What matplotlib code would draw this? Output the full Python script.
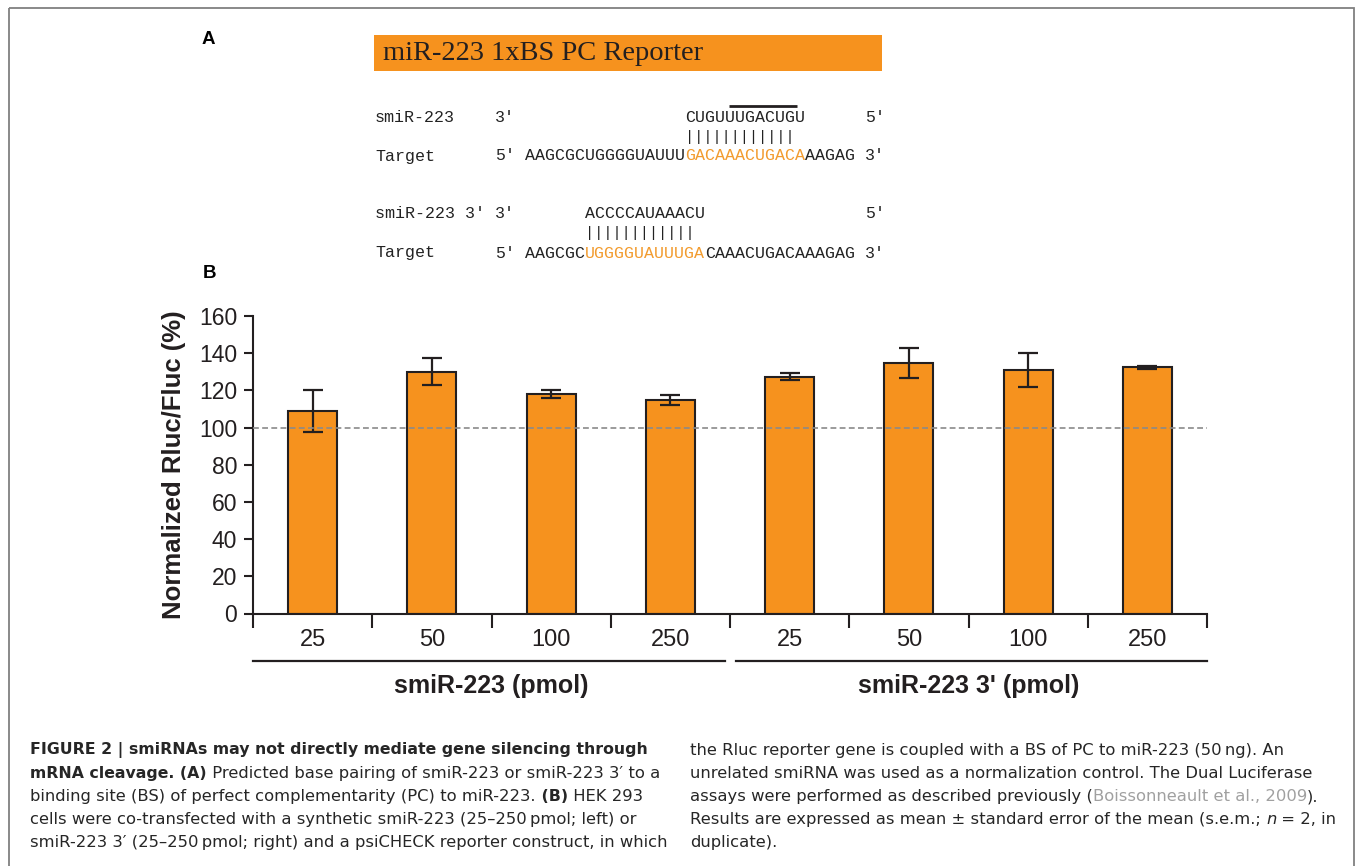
import numpy as np
import matplotlib
matplotlib.use("Agg")
import matplotlib.pyplot as plt
from matplotlib.patches import Rectangle

# ---- data (panel B) ----
groups = ["smiR-223 (pmol)", "smiR-223 3' (pmol)"]
doses = ["25", "50", "100", "250"]
means = [109, 130, 118, 115, 127.3, 134.8, 131, 132.4]
sems = [11.4, 7.3, 2.1, 2.7, 1.8, 8.1, 9.3, 0.8]

W, H = 1355, 866
ORANGE = "#F6921E"
DARK = "#231f20"

plt.rcParams["font.family"] = ["Liberation Sans", "DejaVu Sans"]
CAP_FONT = ["DejaVu Sans"]
MONO = ["Liberation Mono", "DejaVu Sans Mono"]

fig = plt.figure(figsize=(W / 100, H / 100), dpi=100)

# background axes in pixel coordinates for panel A, frame and caption
bg = fig.add_axes([0, 0, 1, 1], zorder=0)
bg.set_xlim(0, W)
bg.set_ylim(H, 0)
bg.axis("off")

bg.add_patch(Rectangle((9, 8), 1345, 880, fill=False, edgecolor="#808080",
                       lw=1.3, clip_on=False))

# ---- panel A ----
bg.text(208, 40, "A", fontsize=13.5, fontweight="bold", ha="center", va="center")
bg.add_patch(Rectangle((374, 35), 508, 36, facecolor=ORANGE, edgecolor="none"))
bg.text(383, 53, "miR-223 1xBS PC Reporter", family=["Liberation Serif", "DejaVu Serif"],
        fontsize=20.5, color=DARK, ha="left", va="center")


def seq(col, y, s, color="#222222", size=12):
    bg.text(375 + col * 10, y, s, family=MONO, fontsize=size, color=color,
            ha="left", va="center")


SEQ_OR = "#F29B2E"
# first pairing
seq(0, 118, "smiR-223")
seq(12, 118, "3\u2032")
seq(31, 118, "CUGUUUGACUGU")
seq(49, 118, "5\u2032")
bg.plot([729, 797], [106, 106], color=DARK, lw=2, solid_capstyle="butt")
seq(31, 137, "||||||||||||", size=11)
seq(0, 156, "Target")
seq(12, 156, "5\u2032")
seq(15, 156, "AAGCGCUGGGGUAUUU")
seq(31, 156, "GACAAACUGACA", color=SEQ_OR)
seq(43, 156, "AAGAG")
seq(49, 156, "3\u2032")

# second pairing
seq(0, 214, "smiR-223 3\u2032")
seq(12, 214, "3\u2032")
seq(21, 214, "ACCCCAUAAACU")
seq(49, 214, "5\u2032")
seq(21, 233, "||||||||||||", size=11)
seq(0, 253, "Target")
seq(12, 253, "5\u2032")
seq(15, 253, "AAGCGC")
seq(21, 253, "UGGGGUAUUUGA", color=SEQ_OR)
seq(33, 253, "CAAACUGACAAAGAG")
seq(49, 253, "3\u2032")

bg.text(209, 274, "B", fontsize=13.5, fontweight="bold", ha="center", va="center")

# ---- panel B ----
ax = fig.add_axes([253 / W, 1 - 613.5 / H, 954 / W, 297.5 / H], zorder=1)
ax.patch.set_alpha(0)
x = np.arange(len(means))
ax.bar(x, means, width=0.41, color=ORANGE, edgecolor=DARK, linewidth=1.5, zorder=2)
ax.errorbar(x, means, yerr=sems, fmt="none", ecolor=DARK, elinewidth=1.6,
            capsize=7.2, capthick=1.6, zorder=3)
ax.axhline(100, color="#8a8a8a", lw=1.2, ls=(0, (3.5, 2)), zorder=4)

ax.set_xlim(-0.5, len(means) - 0.5)
ax.set_ylim(0, 160)
ax.set_yticks(np.arange(0, 161, 20))
ax.set_xticks(np.arange(-0.5, len(means), 1))
ax.set_xticklabels([])
ax.set_xticks(x, minor=True)
ax.set_xticklabels(doses * 2, minor=True)
ax.tick_params(axis="x", which="major", direction="out", length=10, width=1.5, color=DARK)
ax.tick_params(axis="x", which="minor", length=0, pad=11, labelsize=17, labelcolor=DARK)
ax.tick_params(axis="y", direction="out", length=6.5, width=1.5, pad=5,
               labelsize=16.5, color=DARK, labelcolor=DARK)
for s in ["top", "right"]:
    ax.spines[s].set_visible(False)
for s in ["left", "bottom"]:
    ax.spines[s].set_linewidth(1.5)
    ax.spines[s].set_color(DARK)

ax.set_ylabel("Normalized Rluc/Fluc (%)", fontsize=18.5, fontweight="bold", color=DARK)
ax.yaxis.set_label_coords((186 - 253) / 954, 0.5)

tr = ax.get_xaxis_transform()
ax.plot([-0.5, 3.46], [-0.16, -0.16], transform=tr, color=DARK, lw=1.6, clip_on=False)
ax.plot([3.55, 7.5], [-0.16, -0.16], transform=tr, color=DARK, lw=1.6, clip_on=False)
ax.text(1.5, -0.245, groups[0], transform=tr, ha="center", va="center",
        fontsize=18, fontweight="bold", color=DARK)
ax.text(5.5, -0.245, groups[1], transform=tr, ha="center", va="center",
        fontsize=18, fontweight="bold", color=DARK)

# ---- caption ----
CAP_SIZE = 11.75
CAP_BOLD = 11.3


def rich(xp, yp, parts):
    prev = None
    for s, w, st, c in parts:
        kw = dict(family=CAP_FONT, fontsize=CAP_BOLD if w == "bold" else CAP_SIZE,
                  fontweight=w, fontstyle=st, color=c, ha="left", va="bottom")
        if prev is None:
            prev = bg.text(xp, yp, s, **kw)
        else:
            prev = bg.annotate(s, xy=(1, 0), xycoords=prev, **kw)


K = "#262626"
G = "#a0a0a0"
left_lines = [
    [("FIGURE 2 | smiRNAs may not directly mediate gene silencing through", "bold", "normal", K)],
    [("mRNA cleavage. (A)", "bold", "normal", K),
     (" Predicted base pairing of smiR-223 or smiR-223 3\u2032 to a", "normal", "normal", K)],
    [("binding site (BS) of perfect complementarity (PC) to miR-223.", "normal", "normal", K),
     (" (B)", "bold", "normal", K), (" HEK 293", "normal", "normal", K)],
    [("cells were co-transfected with a synthetic smiR-223 (25\u2013250\u2009pmol; left) or", "normal", "normal", K)],
    [("smiR-223 3\u2032 (25\u2013250\u2009pmol; right) and a psiCHECK reporter construct, in which", "normal", "normal", K)],
]
right_lines = [
    [("the Rluc reporter gene is coupled with a BS of PC to miR-223 (50\u2009ng). An", "normal", "normal", K)],
    [("unrelated smiRNA was used as a normalization control. The Dual Luciferase", "normal", "normal", K)],
    [("assays were performed as described previously (", "normal", "normal", K),
     ("Boissonneault et al., 2009", "normal", "normal", G), (").", "normal", "normal", K)],
    [("Results are expressed as mean \u00b1 standard error of the mean (s.e.m.; ", "normal", "normal", K),
     ("n", "normal", "italic", K), (" = 2, in", "normal", "normal", K)],
    [("duplicate).", "normal", "normal", K)],
]
line_y = [758, 781, 804, 827, 850]
for yy, parts in zip(line_y, left_lines):
    rich(30, yy, parts)
for yy, parts in zip(line_y, right_lines):
    rich(690, yy, parts)

fig.savefig("out.png", dpi=100)
